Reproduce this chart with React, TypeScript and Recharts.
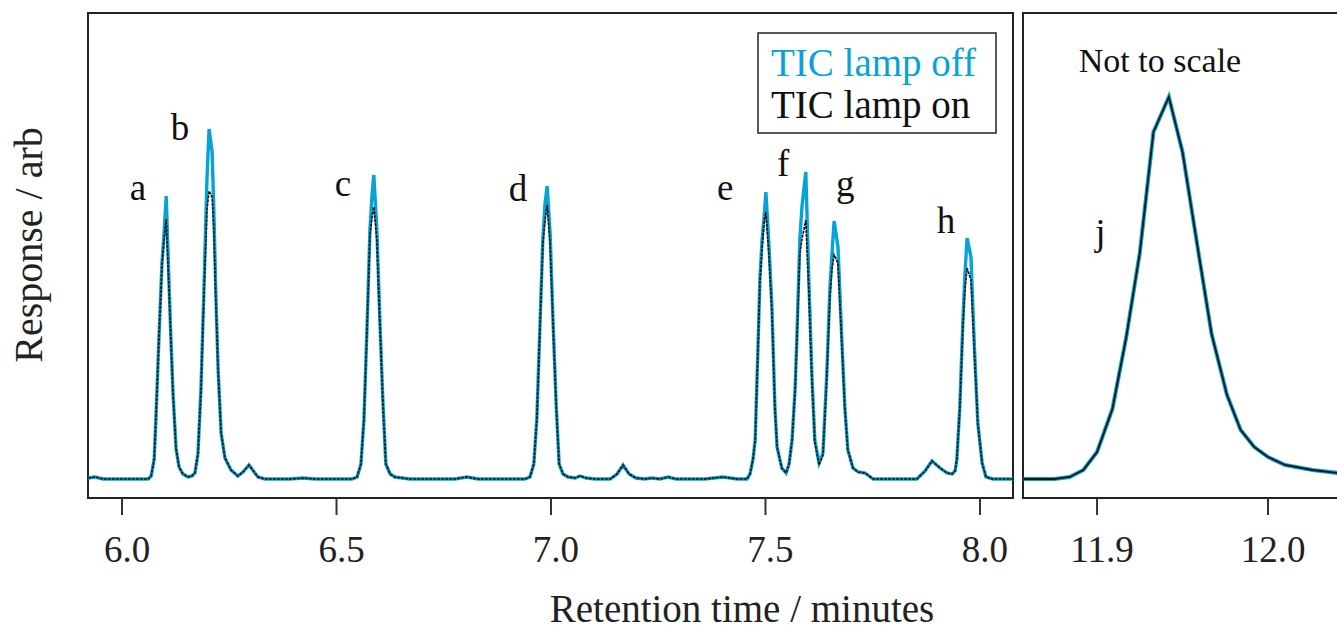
import React from "react";
import {
  LineChart,
  Line,
  XAxis,
  YAxis,
  ReferenceArea,
  ReferenceDot,
} from "recharts";

// main window, retention time in minutes
const retentionTime = [
  5.921, 5.937, 5.956, 6.042,
  6.061, 6.068, 6.075, 6.079, 6.086, 6.093, 6.098, 6.103, 6.11, 6.114, 6.119, 6.126, 6.133, 6.142, 6.154,
  6.163, 6.17, 6.177, 6.184, 6.191, 6.198, 6.203, 6.21, 6.214, 6.219, 6.224, 6.231, 6.24, 6.254, 6.27, 6.282, 6.296, 6.308, 6.317, 6.333,
  6.392, 6.422, 6.45,
  6.536, 6.548, 6.557, 6.564, 6.571, 6.578, 6.583, 6.587, 6.594, 6.601, 6.608, 6.615, 6.625, 6.636, 6.671,
  6.776, 6.804, 6.83,
  6.939, 6.951, 6.96, 6.967, 6.974, 6.981, 6.986, 6.991, 6.998, 7.005, 7.012, 7.019, 7.028, 7.04, 7.056, 7.068, 7.082, 7.103,
  7.138, 7.154, 7.168, 7.182, 7.198, 7.219, 7.235, 7.254, 7.273, 7.291, 7.359, 7.401, 7.434, 7.457,
  7.464, 7.471, 7.476, 7.483, 7.487, 7.492, 7.497, 7.501, 7.508, 7.515, 7.522, 7.527, 7.538, 7.548,
  7.555, 7.562, 7.569, 7.573, 7.58, 7.585, 7.594, 7.601, 7.608, 7.615, 7.625,
  7.634, 7.643, 7.65, 7.655, 7.66, 7.669, 7.678, 7.685, 7.692, 7.704, 7.716, 7.732, 7.751,
  7.814, 7.853, 7.872, 7.888, 7.907, 7.923, 7.935, 7.942, 7.946, 7.953, 7.96, 7.965, 7.97, 7.979, 7.988, 7.995, 8.005, 8.014, 8.03, 8.077,
];

const lampOff = [
  1, 2, 0, 0,
  0, 3, 20, 60, 140, 215, 245, 283, 190, 140, 85, 30, 12, 5, 2,
  3, 6, 25, 90, 190, 300, 350, 327, 270, 180, 110, 46, 21, 9, 3, 7, 14, 7, 2, 0,
  0, 1, 0,
  0, 2, 15, 60, 150, 250, 285, 304, 250, 160, 79, 15, 5, 2, 0,
  0, 2, 0,
  0, 2, 15, 60, 150, 240, 275, 293, 245, 155, 75, 15, 5, 2, 1, 3, 1, 0,
  0, 5, 14, 5, 1, 0, 1, 0, 2, 0, 0, 2, 0, 0,
  5, 20, 39, 139, 200, 239, 263, 287, 235, 172, 72, 32, 11, 6,
  15, 39, 90, 139, 239, 272, 307, 200, 106, 39, 16,
  26, 106, 189, 225, 258, 232, 139, 72, 29, 11, 7, 6, 0,
  0, 0, 8, 18, 11, 6, 5, 8, 19, 72, 156, 205, 241, 222, 122, 56, 16, 2, 0, 0,
];

const lampOn = [
  1, 2, 0, 0,
  0, 3, 20, 60, 140, 212, 240, 260, 185, 138, 84, 30, 12, 5, 2,
  3, 6, 25, 88, 185, 270, 288, 282, 250, 175, 108, 46, 21, 9, 3, 7, 14, 7, 2, 0,
  0, 1, 0,
  0, 2, 15, 60, 148, 245, 262, 272, 240, 156, 78, 15, 5, 2, 0,
  0, 2, 0,
  0, 2, 15, 60, 148, 235, 258, 274, 235, 152, 74, 15, 5, 2, 1, 3, 1, 0,
  0, 5, 14, 5, 1, 0, 1, 0, 2, 0, 0, 2, 0, 0,
  5, 20, 39, 137, 196, 232, 258, 267, 225, 168, 71, 32, 11, 6,
  15, 39, 88, 135, 225, 240, 259, 190, 102, 37, 14,
  24, 102, 180, 210, 224, 216, 135, 70, 29, 11, 7, 6, 0,
  0, 0, 8, 18, 11, 6, 5, 8, 19, 70, 150, 190, 211, 199, 118, 55, 16, 2, 0, 0,
];

const mainTicks = [6.0, 6.5, 7.0, 7.5, 8.0];
const peakNames = ["a", "b", "c", "d", "e", "f", "g", "h"];
const peakNameTime = [6.037, 6.135, 6.515, 6.923, 7.406, 7.541, 7.686, 7.921];
const peakNameHeight = [292, 352, 296, 291, 292, 316, 296, 259];

// inset: peak j
const insetTime = [
  11.857, 11.875, 11.884, 11.892, 11.9, 11.909, 11.917, 11.925, 11.933, 11.942,
  11.95, 11.959, 11.967, 11.976, 11.984, 11.992, 12.0, 12.01, 12.026, 12.041,
];
const insetOff = [0, 0, 2, 9, 27, 70, 141, 226, 347, 382, 327, 230, 145, 84, 49, 32, 22, 14, 9, 6];
const insetOn = [0, 0, 2, 9, 27, 70, 141, 226, 347, 382, 327, 230, 145, 84, 49, 32, 22, 14, 9, 6];
const insetTicks = [11.9, 12.0];

const CYAN = "#07a3d6";
const INK = "#151515";
const SERIF = "'Liberation Serif', 'Times New Roman', serif";
const Y_DOMAIN: [number, number] = [-19, 466];
const MAIN_X: [number, number] = [5.9207, 8.077];
const INSET_X: [number, number] = [11.8567, 12.0421];

const mainData = retentionTime.map((t, i) => ({ t, off: lampOff[i], on: lampOn[i] }));
const insetData = insetTime.map((t, i) => ({ t, off: insetOff[i], on: insetOn[i] }));

const tickStyle = { fontSize: 37, fontFamily: SERIF, fill: "#222", dx: 5 };

export default function App() {
  return (
    <div
      style={{
        position: "absolute",
        left: 0,
        top: 0,
        width: 1337,
        height: 633,
        overflow: "hidden",
        background: "#fff",
      }}
    >
      <div style={{ position: "absolute", left: 0, top: 0 }}>
        <LineChart width={1018} height={633} data={mainData} margin={{ top: 13, right: 5, bottom: 75, left: 88 }}>
          <XAxis
            dataKey="t"
            type="number"
            domain={MAIN_X}
            ticks={mainTicks}
            allowDataOverflow
            tickFormatter={(v: number) => v.toFixed(1)}
            axisLine={false}
            tickSize={17}
            tickMargin={21}
            height={60}
            tickLine={{ stroke: "#333", strokeWidth: 2 }}
            tick={tickStyle}
          />
          <YAxis hide type="number" domain={Y_DOMAIN} allowDataOverflow />
          <ReferenceArea
            x1={MAIN_X[0]}
            x2={MAIN_X[1]}
            y1={Y_DOMAIN[0]}
            y2={Y_DOMAIN[1]}
            fill="none"
            fillOpacity={0}
            stroke="#222"
            strokeWidth={2}
            ifOverflow="visible"
          />
          <Line dataKey="off" type="linear" stroke={CYAN} strokeWidth={3.4} dot={false} isAnimationActive={false} />
          <Line
            dataKey="on"
            type="linear"
            stroke={INK}
            strokeWidth={1.7}
            strokeDasharray="3 1"
            dot={false}
            isAnimationActive={false}
          />
          {peakNames.map((name, i) => (
            <ReferenceDot
              key={name}
              x={peakNameTime[i]}
              y={peakNameHeight[i]}
              r={0}
              fill="none"
              stroke="none"
              ifOverflow="visible"
              label={{ value: name, position: "center", fontSize: 37, fontFamily: SERIF, fill: "#111" }}
            />
          ))}
        </LineChart>
      </div>

      <div style={{ position: "absolute", left: 1018, top: 0 }}>
        <LineChart width={327} height={633} data={insetData} margin={{ top: 13, right: 5, bottom: 75, left: 5 }}>
          <XAxis
            dataKey="t"
            type="number"
            domain={INSET_X}
            ticks={insetTicks}
            allowDataOverflow
            tickFormatter={(v: number) => v.toFixed(1)}
            axisLine={false}
            tickSize={17}
            tickMargin={21}
            height={60}
            tickLine={{ stroke: "#333", strokeWidth: 2 }}
            tick={tickStyle}
          />
          <YAxis hide type="number" domain={Y_DOMAIN} allowDataOverflow />
          <ReferenceArea
            x1={INSET_X[0]}
            x2={INSET_X[1]}
            y1={Y_DOMAIN[0]}
            y2={Y_DOMAIN[1]}
            fill="none"
            fillOpacity={0}
            stroke="#222"
            strokeWidth={2}
            ifOverflow="visible"
          />
          <Line dataKey="off" type="linear" stroke={CYAN} strokeWidth={4} dot={false} isAnimationActive={false} />
          <Line dataKey="on" type="linear" stroke={INK} strokeWidth={1.8} dot={false} isAnimationActive={false} />
          <ReferenceDot
            x={11.902}
            y={247}
            r={0}
            fill="none"
            stroke="none"
            ifOverflow="visible"
            label={{ value: "j", position: "center", fontSize: 37, fontFamily: SERIF, fill: "#111" }}
          />
        </LineChart>
      </div>

      <svg
        width={1337}
        height={633}
        style={{ position: "absolute", left: 0, top: 0, pointerEvents: "none" }}
        fontFamily={SERIF}
      >
        <text x={42} y={245} fontSize={40} fill="#222" textAnchor="middle" transform="rotate(-90 42 245)">
          Response / arb
        </text>
        <text x={742} y={622} fontSize={39} fill="#222" textAnchor="middle">
          Retention time / minutes
        </text>
        <rect x={758} y={33} width={238} height={100} fill="#fff" stroke="#222" strokeWidth={1.5} />
        <text x={771} y={76} fontSize={39} fill={CYAN}>
          TIC lamp off
        </text>
        <text x={771} y={118} fontSize={39} fill="#111">
          TIC lamp on
        </text>
        <text x={1160} y={72} fontSize={34} fill="#111" textAnchor="middle">
          Not to scale
        </text>
      </svg>
    </div>
  );
}
